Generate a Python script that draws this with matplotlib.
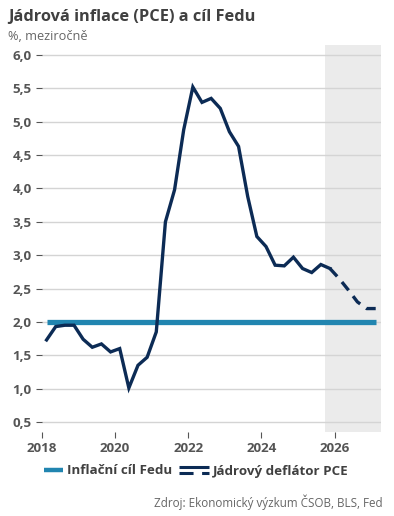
import matplotlib
matplotlib.use("Agg")
import matplotlib.pyplot as plt
from matplotlib.lines import Line2D
from matplotlib.ticker import FuncFormatter
from matplotlib.legend_handler import HandlerBase

plt.rcParams['font.family'] = ['Open Sans', 'DejaVu Sans']

# --- data ---
quarters_actual = [2018.125 + 0.25 * i for i in range(32)]
pce_actual = [1.73, 1.93, 1.95, 1.95, 1.74, 1.62, 1.67, 1.55,
              1.60, 1.01, 1.35, 1.47, 1.85, 3.50, 3.98, 4.88,
              5.52, 5.29, 5.35, 5.20, 4.85, 4.63, 3.88, 3.28,
              3.13, 2.85, 2.84, 2.97, 2.80, 2.74, 2.86, 2.80]
quarters_forecast = [2025.875, 2026.125, 2026.375, 2026.625, 2026.875, 2027.125]
pce_forecast = [2.80, 2.65, 2.48, 2.30, 2.20, 2.20]
target_x = [2018.125, 2027.125]
target_y = [2.0, 2.0]
forecast_span = (2025.75, 2027.27)
yticks = [0.5, 1.0, 1.5, 2.0, 2.5, 3.0, 3.5, 4.0, 4.5, 5.0, 5.5, 6.0]
xticks = [2018, 2020, 2022, 2024, 2026]

title = "Jádrová inflace (PCE) a cíl Fedu"
subtitle = "%, meziročně"
source = "Zdroj: Ekonomický výzkum ČSOB, BLS, Fed"
label_target = "Inflační cíl Fedu"
label_pce = "Jádrový deflátor PCE"

c_target = '#2185b0'
c_pce = '#0c2b55'
c_tick = '#555555'


class ShortLineHandler(HandlerBase):
    def create_artists(self, legend, orig_handle, xdescent, ydescent,
                       width, height, fontsize, trans):
        x1 = width - xdescent
        x0 = x1 - width * 0.66
        yc = height / 2 - ydescent
        ln = Line2D([x0, x1], [yc, yc], color=c_target, lw=3.2,
                    solid_capstyle='butt', transform=trans)
        return [ln]


class SolidDashHandler(HandlerBase):
    def create_artists(self, legend, orig_handle, xdescent, ydescent,
                       width, height, fontsize, trans):
        x0 = -xdescent
        x1 = x0 + width
        yc = height / 2 - ydescent
        top = Line2D([x0, x1], [yc + 2.0, yc + 2.0], color=c_pce, lw=2.2,
                     solid_capstyle='butt', transform=trans)
        bot = Line2D([x0, x1], [yc - 2.0, yc - 2.0], color=c_pce, lw=2.2,
                     dashes=(4.6, 2.8), dash_capstyle='butt', transform=trans)
        return [top, bot]


W, H = 394, 516
fig = plt.figure(figsize=(W / 100, H / 100), dpi=100)
ax = fig.add_axes([42 / W, 1 - 432 / H, (381 - 42) / W, (432 - 45) / H])

ax.axvspan(*forecast_span, color='#ebebeb', lw=0, zorder=0)
ax.set_xlim(2018.0, forecast_span[1])
ax.set_ylim(0.35, 6.15)

ax.set_yticks(yticks)
ax.yaxis.set_major_formatter(FuncFormatter(lambda v, p: f"{v:.1f}".replace('.', ',')))
ax.set_xticks(xticks)
ax.set_xticklabels([str(x) for x in xticks])
ax.grid(axis='y', color='#d4d4d4', lw=1, zorder=1)
for s in ax.spines.values():
    s.set_visible(False)
ax.tick_params(axis='y', length=4.5, width=0.8, color=c_tick, pad=3,
               labelsize=9.6, labelcolor=c_tick)
ax.tick_params(axis='x', length=4.5, width=0.8, color=c_tick, pad=3,
               labelsize=9.6, labelcolor=c_tick)
for lab in ax.get_xticklabels() + ax.get_yticklabels():
    lab.set_fontweight('bold')

ax.plot(target_x, target_y, color=c_target, lw=3.8, solid_capstyle='butt', zorder=3)
ax.plot(quarters_actual, pce_actual, color=c_pce, lw=2.4, zorder=4,
        solid_joinstyle='miter')
ax.plot(quarters_forecast, pce_forecast, color=c_pce, lw=2.4, zorder=4,
        dashes=(3.2, 2.2))

fig.text(8 / W, 1 - 17 / H, title, fontsize=11.8, fontweight='bold',
         color='#404040', va='center', ha='left')
fig.text(8 / W, 1 - 37 / H, subtitle, fontsize=9.2, color='#666666',
         va='center', ha='left')
fig.text(383 / W, 1 - 502 / H, source, fontsize=8.4, color='#666666',
         va='center', ha='right')

target_handle = Line2D([], [], color=c_target)
pce_handle = Line2D([], [], color=c_pce)
leg = fig.legend([target_handle, pce_handle], [label_target, label_pce],
                 loc='center', bbox_to_anchor=(0.485, 1 - 471 / H), ncol=2,
                 frameon=False, handlelength=2.2, handletextpad=0.3,
                 columnspacing=0.5,
                 handler_map={target_handle: ShortLineHandler(),
                              pce_handle: SolidDashHandler()},
                 prop={'weight': 'bold', 'size': 9.6})
for t in leg.get_texts():
    t.set_color('#404040')

fig.savefig('out.png', dpi=100)
